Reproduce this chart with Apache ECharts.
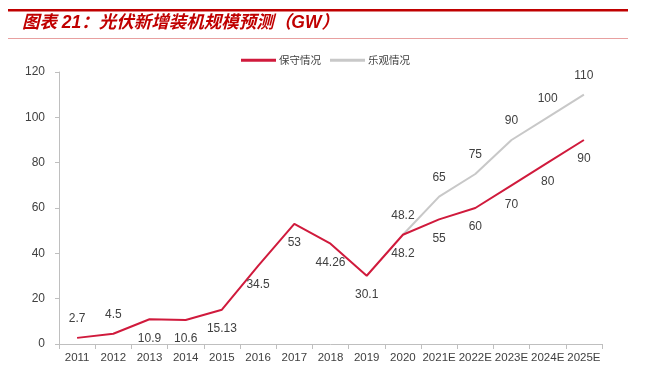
<!DOCTYPE html>
<html>
<head>
<meta charset="utf-8">
<script src="https://cdn.jsdelivr.net/npm/echarts@6/dist/echarts.min.js"></script>
<style>
html,body{margin:0;padding:0;background:#fff;}
#chart{width:661px;height:371px;}
</style>
</head>
<body>
<div id="chart"></div>
<script>
var titleText = '图表 21：光伏新增装机规模预测（GW）';
var categories = ['2011','2012','2013','2014','2015','2016','2017','2018','2019','2020','2021E','2022E','2023E','2024E','2025E'];
var conservativeName = '保守情况';
var optimisticName = '乐观情况';
var conservative = [2.7, 4.5, 10.9, 10.6, 15.13, 34.5, 53, 44.26, 30.1, 48.2, 55, 60, 70, 80, 90];
var optimistic = [null, null, null, null, null, null, null, null, null, 48.2, 65, 75, 90, 100, 110];
var yTicks = {min: 0, max: 120, interval: 20};
var labelsAbove = ['2011', '2012'];

var chart = echarts.init(document.getElementById('chart'));

var consData = conservative.map(function (v, i) {
  var above = labelsAbove.indexOf(categories[i]) >= 0;
  return {value: v, label: {position: above ? 'top' : 'bottom'}};
});

var labelFont = {fontFamily: 'Liberation Sans, Arial, sans-serif', fontSize: 12, color: '#404040'};

chart.setOption({
  animation: false,
  backgroundColor: '#ffffff',
  graphic: [
    {type: 'rect', shape: {x: 8, y: 9, width: 620, height: 2.5}, style: {fill: '#c00000'}, silent: true},
    {type: 'rect', shape: {x: 8, y: 38, width: 620, height: 1}, style: {fill: '#e8a0a0'}, silent: true},
    {type: 'text', left: 22, top: 14, style: {text: titleText, fill: '#c00000', font: 'italic bold 17.5px "Liberation Sans", "Noto Sans CJK SC", sans-serif'}, silent: true}
  ],
  legend: {
    data: [conservativeName, optimisticName],
    top: 50,
    left: 236,
    itemWidth: 35,
    itemHeight: 3,
    itemGap: 9,
    icon: 'rect',
    textStyle: {fontFamily: 'Noto Sans CJK SC, sans-serif', fontSize: 10.5, color: '#404040', padding: [0, 0, 0, -2]}
  },
  grid: {left: 59, right: 59, top: 72, bottom: 27, containLabel: false},
  xAxis: {
    type: 'category',
    data: categories,
    boundaryGap: true,
    axisLine: {show: true, lineStyle: {color: '#bfbfbf', width: 1}},
    axisTick: {show: true, interval: 0, length: 5, lineStyle: {color: '#bfbfbf'}},
    axisLabel: Object.assign({interval: 0, margin: 8}, labelFont, {fontSize: 11.5}),
    splitLine: {show: false}
  },
  yAxis: {
    type: 'value',
    min: yTicks.min,
    max: yTicks.max,
    interval: yTicks.interval,
    axisLine: {show: true, lineStyle: {color: '#bfbfbf', width: 1}},
    axisTick: {show: true, length: 4, lineStyle: {color: '#bfbfbf'}},
    axisLabel: Object.assign({margin: 14}, labelFont),
    splitLine: {show: false}
  },
  series: [
    {
      name: conservativeName,
      type: 'line',
      data: consData,
      z: 3,
      showSymbol: true,
      symbol: 'circle',
      symbolSize: 0.1,
      lineStyle: {color: '#d01a3c', width: 2},
      itemStyle: {color: '#d01a3c'},
      label: Object.assign({show: true, distance: 13}, labelFont)
    },
    {
      name: optimisticName,
      type: 'line',
      data: optimistic,
      z: 2,
      showSymbol: true,
      symbol: 'circle',
      symbolSize: 0.1,
      lineStyle: {color: '#c8c8c8', width: 2},
      itemStyle: {color: '#c8c8c8'},
      label: Object.assign({show: true, position: 'top', distance: 13}, labelFont)
    }
  ]
});
</script>
</body>
</html>
